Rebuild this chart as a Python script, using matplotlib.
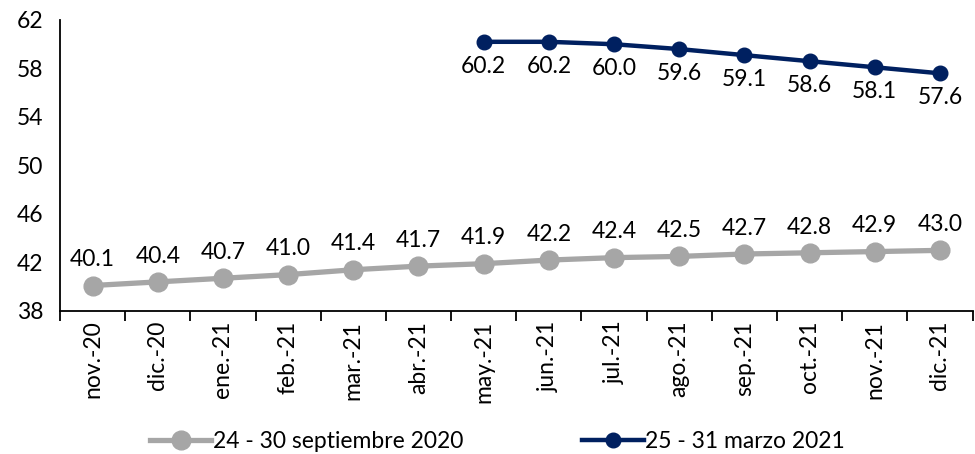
import numpy as np
import matplotlib.pyplot as plt

plt.rcParams['font.family'] = ['Lato', 'DejaVu Sans']

meses = ['nov.-20', 'dic.-20', 'ene.-21', 'feb.-21', 'mar.-21', 'abr.-21', 'may.-21',
         'jun.-21', 'jul.-21', 'ago.-21', 'sep.-21', 'oct.-21', 'nov.-21', 'dic.-21']
sep2020 = [40.1, 40.4, 40.7, 41.0, 41.4, 41.7, 41.9, 42.2, 42.4, 42.5, 42.7, 42.8, 42.9, 43.0]
mar2021 = [None, None, None, None, None, None, 60.2, 60.2, 60.0, 59.6, 59.1, 58.6, 58.1, 57.6]

gris = '#A6A6A6'
azul = '#002060'
fs = 16.5

fig = plt.figure(figsize=(9.75, 4.54), dpi=100)
ax = fig.add_axes([0.0615, 0.315, 0.936, 0.641])

x = np.arange(len(meses))
y2 = np.array([np.nan if v is None else v for v in mar2021])

ax.plot(x, sep2020, color=gris, lw=3.8, marker='o', ms=13.5, label='24 - 30 septiembre 2020')
ax.plot(x, y2, color=azul, lw=3.2, marker='o', ms=10.5, label='25 - 31 marzo 2021')

for xi, v in zip(x, sep2020):
    ax.annotate(f'{v:.1f}', (xi, v), xytext=(0, 11), textcoords='offset points',
                ha='center', va='bottom', fontsize=fs)
for xi, v in zip(x, y2):
    if not np.isnan(v):
        ax.annotate(f'{v:.1f}', (xi, v), xytext=(0, -10), textcoords='offset points',
                    ha='center', va='top', fontsize=fs)

ax.set_xlim(-0.5, len(meses) - 0.5)
ax.set_ylim(38, 62)
ax.set_yticks(np.arange(38, 63, 4))
ax.set_xticks(x)
ax.set_xticklabels(meses, rotation=90, fontsize=fs)
ax.set_xticks(np.arange(-0.5, len(meses), 1), minor=True)
ax.tick_params(axis='x', which='major', length=0, pad=7)
ax.tick_params(axis='x', which='minor', length=7, width=1.3, direction='out')
ax.tick_params(axis='y', length=0, labelsize=fs, pad=12)
for s in ['top', 'right']:
    ax.spines[s].set_visible(False)
for s in ['left', 'bottom']:
    ax.spines[s].set_linewidth(1.3)

fig.legend(loc='lower center', ncol=2, frameon=False, fontsize=fs,
           bbox_to_anchor=(0.51, -0.04), columnspacing=5.2, handlelength=2.7,
           handletextpad=0.05)

fig.savefig('out.png', dpi=100)
